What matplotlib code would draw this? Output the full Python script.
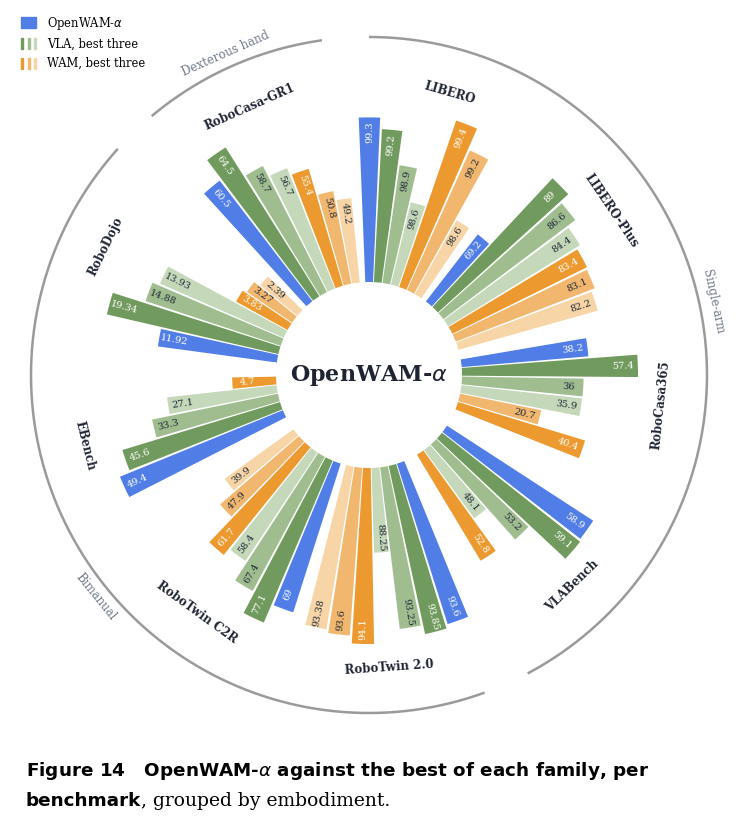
import numpy as np
import matplotlib
matplotlib.use("Agg")
import matplotlib.pyplot as plt
from matplotlib.patches import Patch
from matplotlib.legend_handler import HandlerTuple

# benchmark -> bars in clockwise order; kind: 0 OpenWAM, 1-3 VLA rank, 4-6 WAM rank
benchmarks = ["LIBERO", "LIBERO-Plus", "RoboCasa365", "VLABench", "RoboTwin 2.0",
              "RoboTwin C2R", "EBench", "RoboDojo", "RoboCasa-GR1"]
values = [
    [99.3, 99.2, 98.9, 98.6, 99.4, 99.2, 98.6],
    [69.2, 89, 86.6, 84.4, 83.4, 83.1, 82.2],
    [38.2, 57.4, 36, 35.9, 20.7, 40.4],
    [58.9, 59.1, 53.2, 48.1, 52.8],
    [93.6, 93.85, 93.25, 88.25, 94.1, 93.6, 93.38],
    [69, 77.1, 67.4, 58.4, 61.7, 47.9, 39.9],
    [49.4, 45.6, 33.3, 27.1, 4.7],
    [11.92, 19.34, 14.88, 13.93, 3.83, 3.27, 2.39],
    [60.5, 64.5, 58.7, 56.7, 55.4, 50.8, 49.2],
]
kinds = [
    [0, 1, 2, 3, 4, 5, 6],
    [0, 1, 2, 3, 4, 5, 6],
    [0, 1, 2, 3, 5, 4],
    [0, 1, 2, 3, 4],
    [0, 1, 2, 3, 4, 5, 6],
    [0, 1, 2, 3, 4, 5, 6],
    [0, 1, 2, 3, 4],
    [0, 1, 2, 3, 4, 5, 6],
    [0, 1, 2, 3, 4, 5, 6],
]
groups = ["Single-arm", "Bimanual", "Dexterous hand"]
group_span = [(0, 4), (4, 8), (8, 9)]

colors = ["#507ee6", "#719b5e", "#a0bd90", "#c6d8ba", "#ec9a2f", "#f2b76f", "#f7d5a6"]
light_text = {0, 1, 4}

SECTOR = 40.0
ROT = -4.0
STEP = 5.3
R0, LMAX, LMIN = 93, 176, 30
serif = "DejaVu Serif"

fig = plt.figure(figsize=(7.36, 8.3), dpi=100)
cx, cy, R = 369, 830 - 375, 360
ax = fig.add_axes([(cx - R) / 736, (cy - R) / 830, 2 * R / 736, 2 * R / 830], projection="polar")
ax.set_theta_zero_location("N")
ax.set_theta_direction(-1)
ax.set_ylim(0, R)
ax.axis("off")

for b, (name, vals, ks) in enumerate(zip(benchmarks, values, kinds)):
    vals = np.array(vals, float)
    rng = vals.max() - vals.min()
    lo = max(0.0, vals.min() - 0.6 * rng)
    frac = (vals - lo) / (vals.max() - lo)
    center = b * SECTOR + SECTOR / 2 + ROT
    n = len(vals)
    for i, (v, k, f) in enumerate(zip(vals, ks, frac)):
        th = center + (i - (n - 1) / 2) * STEP
        L = LMIN + (LMAX - LMIN) * f
        ax.bar(np.deg2rad(th), L, width=np.deg2rad(STEP * 0.9), bottom=R0,
               color=colors[k], edgecolor="none")
        phi = (90 - th) % 360
        rot = phi if phi < 90 else (phi - 180 if phi < 270 else phi - 360)
        if rot >= 90:
            rot -= 180
        lab = f"{v:g}"
        ax.text(np.deg2rad(th), R0 + L - 15, lab, rotation=rot, rotation_mode="anchor",
                ha="center", va="center", fontsize=7, family=serif,
                color="white" if k in light_text else "#1f2937")
    # benchmark label
    t = center % 360
    trot = -t if (t < 90 or t > 270) else 180 - t
    ax.text(np.deg2rad(center), 293, name, rotation=trot, rotation_mode="anchor",
            ha="center", va="center", fontsize=8.5, fontweight="bold", family=serif,
            color="#1f2433")

# embodiment arcs
for g, (a, b) in zip(groups, group_span):
    t0 = a * SECTOR + ROT + 4
    t1 = b * SECTOR + ROT - 4
    th = np.deg2rad(np.linspace(t0, t1, 200))
    ax.plot(th, np.full_like(th, 338), color="#9a9a9a", lw=1.8, solid_capstyle="butt")
    mid = (t0 + t1) / 2
    if g == "Single-arm":
        mid = 78
    elif g == "Bimanual":
        mid = 231
    t = mid % 360
    trot = -t if (t < 90 or t > 270) else 180 - t
    ax.text(np.deg2rad(mid), 352, g, rotation=trot, rotation_mode="anchor",
            ha="center", va="center", fontsize=8.5, family=serif, color="#707a8a")

fig.text(cx / 736, cy / 830, r"OpenWAM-$\alpha$", ha="center", va="center",
         fontsize=16, fontweight="bold", family=serif, color="#1f2433")

# legend
handles = [Patch(color=colors[0]),
           (Patch(color=colors[1]), Patch(color=colors[2]), Patch(color=colors[3])),
           (Patch(color=colors[4]), Patch(color=colors[5]), Patch(color=colors[6]))]
fig.legend(handles, [r"OpenWAM-$\alpha$", "VLA, best three", "WAM, best three"],
           handler_map={tuple: HandlerTuple(ndivide=None, pad=0.4)},
           loc="upper left", bbox_to_anchor=(0.015, 0.995), frameon=False,
           prop={"family": serif, "size": 8.3}, handlelength=1.3, handleheight=1.1,
           labelspacing=0.55, handletextpad=0.9)

# caption
fig.text(0.035, 0.071, r"Figure 14   OpenWAM-$\alpha$ against the best of each family, per",
         fontsize=13.2, fontweight="bold", family="DejaVu Sans", va="center")
t1 = fig.text(0.035, 0.035, "benchmark", fontsize=13.2, fontweight="bold",
              family="DejaVu Sans", va="center")
fig.canvas.draw()
bb = t1.get_window_extent().transformed(fig.transFigure.inverted())
fig.text(bb.x1, 0.035, ", grouped by embodiment.", fontsize=13.5, family=serif, va="center")

fig.savefig("out.png", dpi=100)
